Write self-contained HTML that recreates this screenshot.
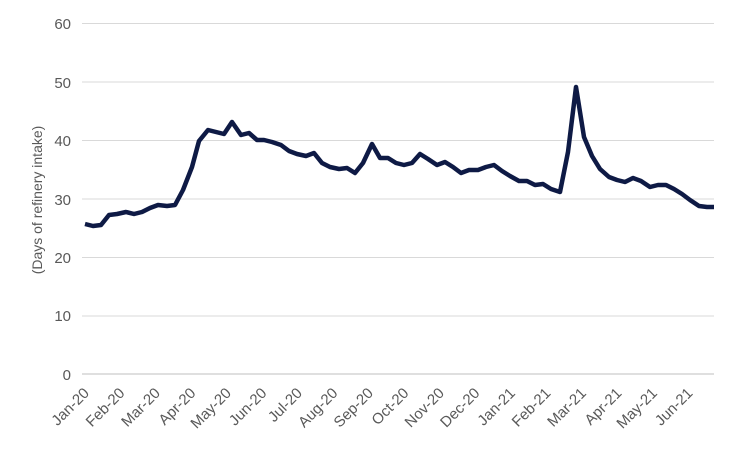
<!DOCTYPE html>
<html><head><style>
body{margin:0;background:#fff;}
svg text{font-family:"Liberation Sans",Arial,sans-serif;fill:#595959;}
</style></head><body>
<svg width="750" height="450" viewBox="0 0 750 450">
<g stroke="#d9d9d9" stroke-width="1">
<line x1="82" x2="714" y1="23.5" y2="23.5"/>
<line x1="82" x2="714" y1="82" y2="82"/>
<line x1="82" x2="714" y1="140.5" y2="140.5"/>
<line x1="82" x2="714" y1="199" y2="199"/>
<line x1="82" x2="714" y1="257.5" y2="257.5"/>
<line x1="82" x2="714" y1="316" y2="316"/>
<line x1="82" x2="714" y1="374" y2="374" stroke="#bfbfbf"/>
</g>
<g font-size="15" text-anchor="end">
<text x="71" y="29">60</text><text x="71" y="88">50</text><text x="71" y="146">40</text>
<text x="71" y="205">30</text><text x="71" y="263">20</text><text x="71" y="321">10</text>
<text x="71" y="380">0</text>
</g>
<text transform="translate(42,200) rotate(-90)" font-size="14" text-anchor="middle">(Days of refinery intake)</text>
<polyline fill="none" stroke="#0e1a45" stroke-width="4.5" stroke-linejoin="round" points="85,224 93,226 101,225 109,215 117,214 126,212 134,214 142,212 150,208 158,205 167,206 175,205 183,190 192,167 199,141 208,130 216,132 224,134 232,122 241,135 249,133 257,140 264,140 272,142 281,145 289,151 297,154 306,156 314,153 322,163 330,167 339,169 347,168 355,173 363,163 372,144 380,158 388,158 396,163 404,165 412,163 420,154 428,159 437,165 445,162 453,167 461,173 469,170 478,170 486,167 494,165 502,171 510,176 519,181 527,181 535,185 543,184 551,189 560,192 568,152 576,87 584,137 592,156 600,169 609,177 617,180 625,182 633,178 641,181 650,187 658,185 666,185 674,189 682,194 690,200 699,206 707,207 714,207"/>
<g font-size="15" text-anchor="end">
<text transform="translate(90,394) rotate(-45)">Jan-20</text>
<text transform="translate(125.5,394) rotate(-45)">Feb-20</text>
<text transform="translate(161,394) rotate(-45)">Mar-20</text>
<text transform="translate(196.5,394) rotate(-45)">Apr-20</text>
<text transform="translate(232,394) rotate(-45)">May-20</text>
<text transform="translate(267.5,394) rotate(-45)">Jun-20</text>
<text transform="translate(303,394) rotate(-45)">Jul-20</text>
<text transform="translate(338.5,394) rotate(-45)">Aug-20</text>
<text transform="translate(374,394) rotate(-45)">Sep-20</text>
<text transform="translate(409.5,394) rotate(-45)">Oct-20</text>
<text transform="translate(445,394) rotate(-45)">Nov-20</text>
<text transform="translate(480.5,394) rotate(-45)">Dec-20</text>
<text transform="translate(516,394) rotate(-45)">Jan-21</text>
<text transform="translate(551.5,394) rotate(-45)">Feb-21</text>
<text transform="translate(587,394) rotate(-45)">Mar-21</text>
<text transform="translate(622.5,394) rotate(-45)">Apr-21</text>
<text transform="translate(658,394) rotate(-45)">May-21</text>
<text transform="translate(693.5,394) rotate(-45)">Jun-21</text>
</g>
</svg>
</body></html>
